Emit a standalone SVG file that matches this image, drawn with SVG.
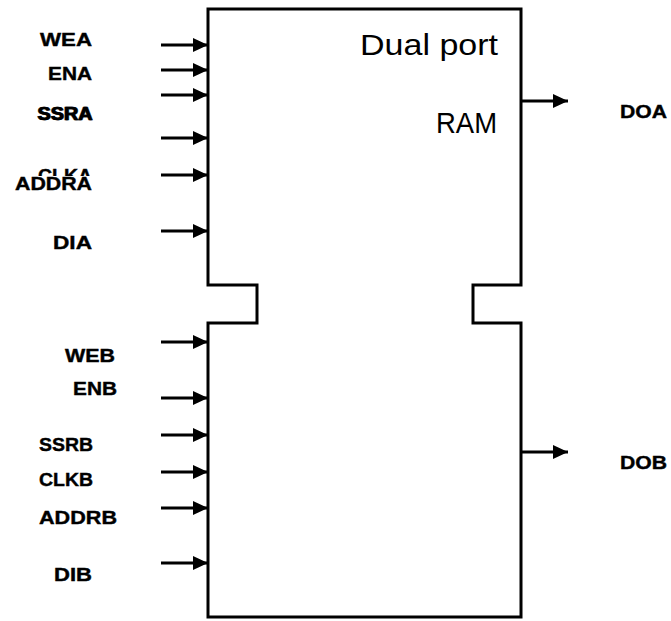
<svg xmlns="http://www.w3.org/2000/svg" width="671" height="621" viewBox="0 0 671 621">
<style>
.lbl{font-family:"Liberation Sans",Arial,sans-serif;font-weight:bold;font-size:18.5px;fill:#000;stroke:#000;stroke-width:0.4}
.ttl{font-family:"Liberation Sans",Arial,sans-serif;font-size:30px;fill:#000}
.wire{stroke:#000;stroke-width:3;fill:none;marker-end:url(#ah)}
.box{stroke:#000;stroke-width:3;fill:#fff;stroke-linejoin:miter}
</style>
<defs>
<marker id="ah" markerUnits="userSpaceOnUse" markerWidth="16" markerHeight="14" refX="15" refY="7" orient="auto">
<path d="M0,0 L15,7 L0,14 Z" fill="#000"/>
</marker>
</defs>
<g id="ram">
<path class="box" d="M208,9 L521,9 L521,285 L473,285 L473,323 L521,323 L521,617 L208,617 L208,323 L257,323 L257,285 L208,285 Z"/>
<text class="ttl" x="360" y="55" textLength="138" lengthAdjust="spacingAndGlyphs">Dual port</text>
<text class="ttl" x="436" y="133" textLength="61" lengthAdjust="spacingAndGlyphs">RAM</text>
</g>
<g id="connectors">
<line class="wire" x1="161" y1="45" x2="208" y2="45"/>
<line class="wire" x1="161" y1="70" x2="208" y2="70"/>
<line class="wire" x1="161" y1="95" x2="208" y2="95"/>
<line class="wire" x1="161" y1="138" x2="208" y2="138"/>
<line class="wire" x1="161" y1="175" x2="208" y2="175"/>
<line class="wire" x1="161" y1="231" x2="208" y2="231"/>
<line class="wire" x1="161" y1="342" x2="208" y2="342"/>
<line class="wire" x1="161" y1="398" x2="208" y2="398"/>
<line class="wire" x1="161" y1="435" x2="208" y2="435"/>
<line class="wire" x1="161" y1="472" x2="208" y2="472"/>
<line class="wire" x1="161" y1="508" x2="208" y2="508"/>
<line class="wire" x1="161" y1="563" x2="208" y2="563"/>
<line class="wire" x1="521" y1="101" x2="568" y2="101"/>
<line class="wire" x1="521" y1="452" x2="568" y2="452"/>
</g>
<g id="labels-a">
<text class="lbl" x="40" y="46" textLength="52" lengthAdjust="spacingAndGlyphs">WEA</text>
<text class="lbl" x="48" y="80" textLength="44" lengthAdjust="spacingAndGlyphs">ENA</text>
<text class="lbl" x="37" y="120" textLength="55" lengthAdjust="spacingAndGlyphs">SSRA</text>
<text class="lbl" x="38" y="120" textLength="55" lengthAdjust="spacingAndGlyphs">SSRA</text>
<text class="lbl" x="38" y="182" textLength="54" lengthAdjust="spacingAndGlyphs">CLKA</text>
<rect x="10" y="176" width="95" height="20" fill="#fff"/>
<text class="lbl" x="15" y="190" textLength="77" lengthAdjust="spacingAndGlyphs">ADDRA</text>
<text class="lbl" x="53" y="249" textLength="39" lengthAdjust="spacingAndGlyphs">DIA</text>
</g>
<g id="labels-b">
<text class="lbl" x="65" y="362" textLength="50" lengthAdjust="spacingAndGlyphs">WEB</text>
<text class="lbl" x="73" y="395" textLength="44" lengthAdjust="spacingAndGlyphs">ENB</text>
<text class="lbl" x="39" y="451" textLength="54" lengthAdjust="spacingAndGlyphs">SSRB</text>
<text class="lbl" x="39" y="486" textLength="54" lengthAdjust="spacingAndGlyphs">CLKB</text>
<text class="lbl" x="39" y="524" textLength="78" lengthAdjust="spacingAndGlyphs">ADDRB</text>
<text class="lbl" x="54" y="581" textLength="38" lengthAdjust="spacingAndGlyphs">DIB</text>
</g>
<g id="labels-out">
<text class="lbl" x="620" y="118" textLength="47" lengthAdjust="spacingAndGlyphs">DOA</text>
<text class="lbl" x="620" y="469" textLength="47" lengthAdjust="spacingAndGlyphs">DOB</text>
</g>
</svg>
